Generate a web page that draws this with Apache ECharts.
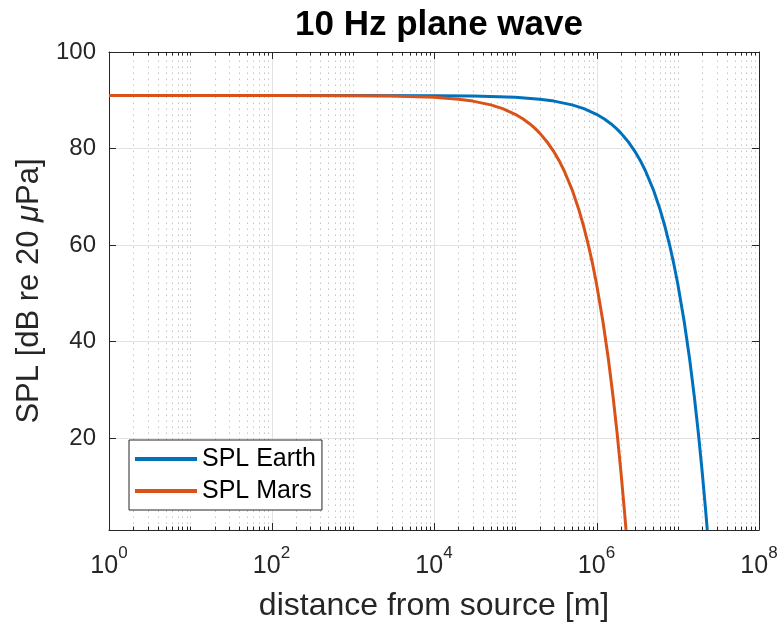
<!DOCTYPE html>
<html>
<head>
<meta charset="utf-8">
<script src="https://cdn.jsdelivr.net/npm/echarts@6/dist/echarts.min.js"></script>
<style>
html,body{margin:0;padding:0;background:#fff;}
#chart{width:784px;height:627px;}
</style>
</head>
<body>
<div id="chart"></div>
<script>
// ---- data ----
const titleText = '10 Hz plane wave';
const xAxisName = 'distance from source [m]';
const yAxisName = 'SPL [dB re 20 {i|\u03bc}Pa]';
const seriesNames = ['SPL Earth', 'SPL Mars'];

const distEarth = [1, 10, 100, 1000, 1e4, 3e4, 1e5, 2e5, 3e5, 5e5, 7e5, 1e6, 1.25e6, 1.5e6, 1.75e6, 2e6, 2.5e6, 3e6, 3.5e6, 4e6, 5e6, 6e6, 7e6, 8e6, 9e6, 1e7, 1.2e7, 1.4e7, 1.6e7, 1.8e7, 2e7, 2.2e7, 2.31e7];
const splEarth  = [91.0, 91.0, 91.0, 91.0, 90.96, 90.88, 90.61, 90.22, 89.83, 89.05, 88.27, 87.1, 86.13, 85.15, 84.18, 83.2, 81.25, 79.3, 77.35, 75.4, 71.5, 67.6, 63.7, 59.8, 55.9, 52.0, 44.2, 36.4, 28.6, 20.8, 13.0, 5.2, 1.0];

const distMars = [1, 10, 100, 1000, 3000, 1e4, 2e4, 3e4, 5e4, 7e4, 1e5, 1.25e5, 1.5e5, 1.75e5, 2e5, 2.5e5, 3e5, 3.5e5, 4e5, 5e5, 6e5, 7e5, 8e5, 9e5, 1e6, 1.2e6, 1.4e6, 1.6e6, 1.8e6, 2e6, 2.2e6, 2.31e6];
const splMars  = [91.0, 91.0, 91.0, 90.96, 90.88, 90.61, 90.22, 89.83, 89.05, 88.27, 87.1, 86.13, 85.15, 84.18, 83.2, 81.25, 79.3, 77.35, 75.4, 71.5, 67.6, 63.7, 59.8, 55.9, 52.0, 44.2, 36.4, 28.6, 20.8, 13.0, 5.2, 1.0];

const yTickLabels = [20, 40, 60, 80, 100];
const xLabelExponents = [0, 2, 4, 6, 8];

// axis decoration: tick positions on the log x axis (1..9 x 10^k)
const xTickPositions = [];
for (let e = 0; e < 8; e++) {
  for (let m = 1; m <= 9; m++) xTickPositions.push(m * Math.pow(10, e));
}
xTickPositions.push(1e8);

const AX = '#262626';
const FONT = 'Liberation Sans, Arial, Helvetica, sans-serif';

const chart = echarts.init(document.getElementById('chart'), null, {renderer: 'canvas'});

function pack(d, v) { return d.map((x, i) => [x, v[i]]); }

const option = {
  animation: false,
  backgroundColor: '#ffffff',
  title: {
    text: titleText,
    left: 434,
    top: 3,
    textAlign: 'center',
    textStyle: {fontFamily: FONT, fontSize: 35, fontWeight: 'bold', color: '#000'}
  },
  grid: {left: 109, right: 25, top: 52, bottom: 96, containLabel: false},
  legend: {
    orient: 'vertical',
    left: 129, top: 440,
    padding: [6, 6, 6, 6],
    itemGap: 6,
    itemWidth: 62, itemHeight: 4,
    borderColor: AX, borderWidth: 1,
    backgroundColor: '#fff',
    icon: 'rect',
    data: seriesNames,
    textStyle: {fontFamily: FONT, fontSize: 25, color: '#000', lineHeight: 26}
  },
  xAxis: [{
    type: 'log', logBase: 10, min: 1, max: 1e8,
    name: xAxisName, nameLocation: 'middle', nameGap: 60,
    nameTextStyle: {fontFamily: FONT, fontSize: 32, color: AX},
    axisLine: {show: true, lineStyle: {color: AX, width: 1}},
    axisTick: {show: false},
    splitLine: {show: false},
    axisLabel: {
      margin: 15,
      formatter: function (v) {
        const e = Math.round(Math.log10(v));
        if (xLabelExponents.indexOf(e) < 0) return '';
        return '{b|10}{s|' + e + '}';
      },
      rich: {
        b: {fontFamily: FONT, fontSize: 25, color: AX, lineHeight: 34, verticalAlign: 'bottom'},
        s: {fontFamily: FONT, fontSize: 17, color: AX, lineHeight: 19, verticalAlign: 'top'}
      }
    }
  }, {
    type: 'log', logBase: 10, min: 1, max: 1e8, position: 'top',
    axisLine: {show: true, lineStyle: {color: AX, width: 1}},
    axisTick: {show: false}, axisLabel: {show: false}, splitLine: {show: false}
  }],
  yAxis: [{
    type: 'value', min: 1, max: 100, splitNumber: 5,
    name: yAxisName, nameLocation: 'middle', nameGap: 61,
    nameTextStyle: {fontFamily: FONT, fontSize: 31, color: AX,
      rich: {i: {fontFamily: FONT, fontSize: 31, color: AX, fontStyle: 'italic'}}},
    axisLine: {show: true, lineStyle: {color: AX, width: 1}},
    axisTick: {show: true, inside: true, length: 7, lineStyle: {color: AX}},
    splitLine: {show: true, lineStyle: {color: '#e3e3e3', width: 1}},
    axisLabel: {
      margin: 13, fontFamily: FONT, fontSize: 24, color: AX,
      formatter: function (v) { return yTickLabels.indexOf(v) >= 0 ? String(v) : ''; }
    }
  }, {
    type: 'value', min: 1, max: 100, splitNumber: 5, position: 'right',
    axisLine: {show: true, lineStyle: {color: AX, width: 1}},
    axisTick: {show: true, inside: true, length: 7, lineStyle: {color: AX}},
    splitLine: {show: false}, axisLabel: {show: false}
  }],
  series: [{
    type: 'custom',
    name: 'xgrid',
    xAxisIndex: 0, yAxisIndex: 0,
    silent: true, z: 1,
    clip: false,
    data: xTickPositions.map(v => [v, 50]),
    encode: {x: 0, y: 1},
    renderItem: function (params, api) {
      const v = api.value(0);
      const pb = api.coord([v, 1]);
      const pt = api.coord([v, 100]);
      const e = Math.log10(v);
      const er = Math.round(e);
      const isDecade = Math.abs(e - er) < 1e-9;
      const isMajor = isDecade && xLabelExponents.indexOf(er) >= 0;
      const x = Math.round(pb[0]) + 0.5;
      const children = [];
      if (v > 1.0001 && v < 0.9999e8) {
        children.push({
          type: 'line',
          shape: {x1: x, y1: pb[1], x2: x, y2: pt[1]},
          style: isMajor ? {stroke: '#e3e3e3', lineWidth: 1}
                         : {stroke: '#c4c4c4', lineWidth: 1, lineDash: [1.5, 4.5]}
        });
      }
      const tl = isMajor ? 7 : 3.5;
      children.push({type: 'line', shape: {x1: x, y1: pb[1], x2: x, y2: pb[1] - tl}, style: {stroke: AX, lineWidth: 1}});
      children.push({type: 'line', shape: {x1: x, y1: pt[1], x2: x, y2: pt[1] + tl}, style: {stroke: AX, lineWidth: 1}});
      return {type: 'group', children: children};
    }
  }, {
    name: seriesNames[0], type: 'line', xAxisIndex: 0, yAxisIndex: 0,
    data: pack(distEarth, splEarth), showSymbol: false, symbol: 'none', z: 3,
    lineStyle: {color: '#0072BD', width: 3, join: 'round'}, itemStyle: {color: '#0072BD'}
  }, {
    name: seriesNames[1], type: 'line', xAxisIndex: 0, yAxisIndex: 0,
    data: pack(distMars, splMars), showSymbol: false, symbol: 'none', z: 3,
    lineStyle: {color: '#D95319', width: 3, join: 'round'}, itemStyle: {color: '#D95319'}
  }]
};
chart.setOption(option);
</script>
</body>
</html>
